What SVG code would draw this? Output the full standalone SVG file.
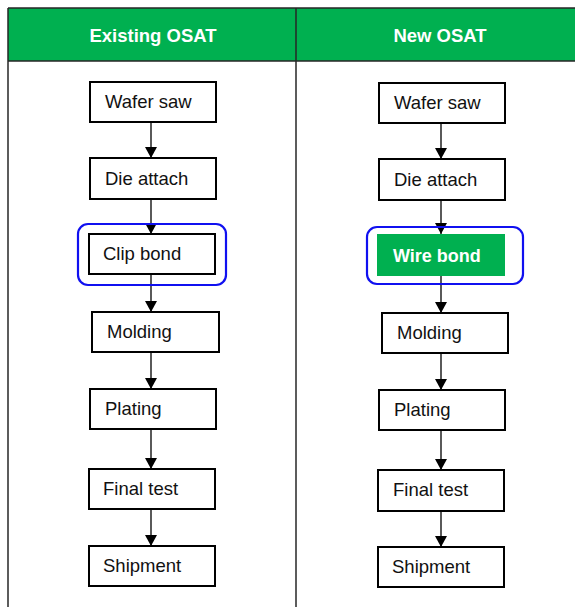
<svg xmlns="http://www.w3.org/2000/svg" width="575" height="607" viewBox="0 0 575 607">
<defs>
<style>
.hdr{fill:#00B050}
.grid{stroke:#262626;stroke-width:1.5;fill:none}
.box{fill:#fff;stroke:#000;stroke-width:2}
.gbox{fill:#00B050;stroke:none}
.hl{fill:none;stroke:#1010F0;stroke-width:2.2}
.t{font-family:"Liberation Sans",Arial,sans-serif;font-size:18.5px;fill:#111}
.th{font-family:"Liberation Sans",Arial,sans-serif;font-size:18.5px;font-weight:bold;fill:#fff}
.tw{font-family:"Liberation Sans",Arial,sans-serif;font-size:18px;font-weight:bold;fill:#fff}
.c line{stroke:#000;stroke-width:1.3}
</style>
<marker id="ah" viewBox="0 0 11 12" refX="11" refY="6" markerWidth="11" markerHeight="12" markerUnits="userSpaceOnUse" orient="auto">
<path d="M0,0 L11,6 L0,12 Z" fill="#000"/>
</marker>
</defs>
<rect x="0" y="0" width="575" height="607" fill="#fff"/>
<g id="table">
<rect class="hdr" x="8" y="8" width="570" height="53"/>
<line class="grid" x1="8" y1="8" x2="575" y2="8"/>
<line class="grid" x1="8" y1="61" x2="575" y2="61"/>
<line class="grid" x1="8" y1="8" x2="8" y2="607"/>
<line class="grid" x1="296" y1="8" x2="296" y2="607"/>
<text class="th" x="153" y="42" text-anchor="middle">Existing OSAT</text>
<text class="th" x="440" y="42" text-anchor="middle">New OSAT</text>
</g>
<g class="c" id="connectors">
<line x1="151" y1="122" x2="151" y2="158" marker-end="url(#ah)"/>
<line x1="151" y1="199" x2="151" y2="234" marker-end="url(#ah)"/>
<line x1="151" y1="274" x2="151" y2="312" marker-end="url(#ah)"/>
<line x1="151" y1="352" x2="151" y2="389" marker-end="url(#ah)"/>
<line x1="151" y1="429" x2="151" y2="469" marker-end="url(#ah)"/>
<line x1="151" y1="509" x2="151" y2="546" marker-end="url(#ah)"/>
<line x1="441" y1="123" x2="441" y2="159" marker-end="url(#ah)"/>
<line x1="441" y1="200" x2="441" y2="234" marker-end="url(#ah)"/>
<line x1="441" y1="276" x2="441" y2="313" marker-end="url(#ah)"/>
<line x1="441" y1="353" x2="441" y2="390" marker-end="url(#ah)"/>
<line x1="441" y1="430" x2="441" y2="470" marker-end="url(#ah)"/>
<line x1="441" y1="511" x2="441" y2="547" marker-end="url(#ah)"/>
</g>
<g id="l-wafer"><rect class="box" x="90" y="82" width="126" height="40"/><text class="t" x="105" y="108">Wafer saw</text></g>
<g id="l-die"><rect class="box" x="90" y="158" width="126" height="41"/><text class="t" x="105" y="185">Die attach</text></g>
<g id="l-clip"><rect class="hl" x="78" y="224" width="148" height="61" rx="10"/><rect class="box" x="89" y="234" width="126" height="40"/><text class="t" x="103" y="260">Clip bond</text></g>
<g id="l-mold"><rect class="box" x="92" y="312" width="127" height="40"/><text class="t" x="107" y="338">Molding</text></g>
<g id="l-plate"><rect class="box" x="90" y="389" width="126" height="40"/><text class="t" x="105" y="415">Plating</text></g>
<g id="l-final"><rect class="box" x="89" y="469" width="126" height="40"/><text class="t" x="103" y="495">Final test</text></g>
<g id="l-ship"><rect class="box" x="89" y="546" width="126" height="40"/><text class="t" x="103" y="572">Shipment</text></g>
<g id="r-wafer"><rect class="box" x="379" y="83" width="126" height="40"/><text class="t" x="394" y="109">Wafer saw</text></g>
<g id="r-die"><rect class="box" x="379" y="159" width="126" height="41"/><text class="t" x="394" y="186">Die attach</text></g>
<g id="r-wire"><rect class="hl" x="367" y="227" width="156" height="57" rx="10"/><rect class="gbox" x="377" y="234" width="128" height="42"/><text class="tw" x="393" y="262">Wire bond</text></g>
<g id="r-mold"><rect class="box" x="382" y="313" width="126" height="40"/><text class="t" x="397" y="339">Molding</text></g>
<g id="r-plate"><rect class="box" x="379" y="390" width="126" height="40"/><text class="t" x="394" y="416">Plating</text></g>
<g id="r-final"><rect class="box" x="378" y="470" width="126" height="41"/><text class="t" x="393" y="496">Final test</text></g>
<g id="r-ship"><rect class="box" x="378" y="547" width="126" height="40"/><text class="t" x="392" y="573">Shipment</text></g>
</svg>
